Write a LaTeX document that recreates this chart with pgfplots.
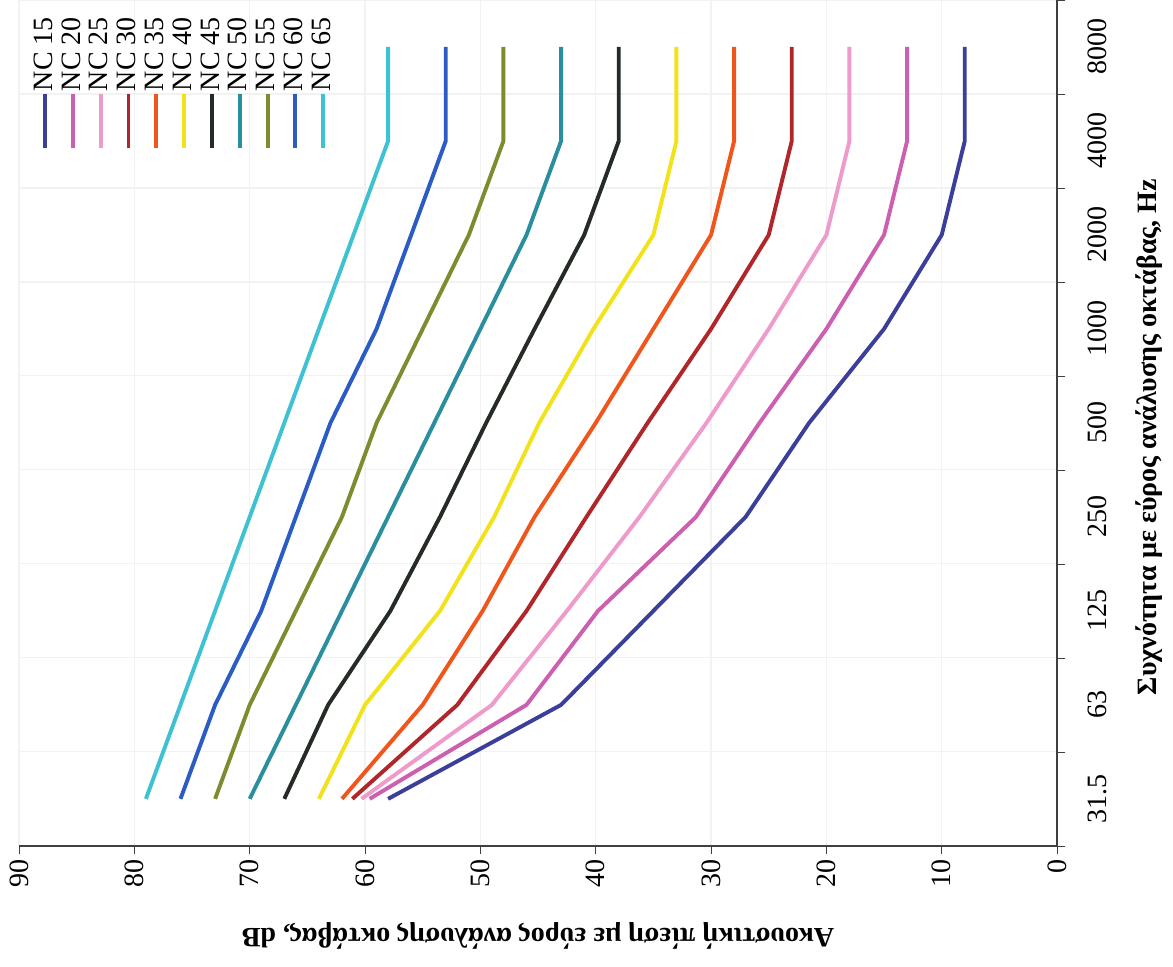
\documentclass[border=0pt]{standalone}
\usepackage{fontspec}
\setmainfont{Liberation Serif}
\usepackage{graphicx}
\usepackage{pgfplots}
\pgfplotsset{compat=1.18}
\usetikzlibrary{calc}

\definecolor{nc15}{HTML}{3B3F99}
\definecolor{nc20}{HTML}{CC5FB0}
\definecolor{nc25}{HTML}{EE9ACB}
\definecolor{nc30}{HTML}{B0262A}
\definecolor{nc35}{HTML}{F0561C}
\definecolor{nc40}{HTML}{F2E21A}
\definecolor{nc45}{HTML}{252B25}
\definecolor{nc50}{HTML}{2A8E9E}
\definecolor{nc55}{HTML}{7E8C30}
\definecolor{nc60}{HTML}{2B5BC4}
\definecolor{nc65}{HTML}{3EC1D3}

\begin{document}
\rotatebox{90}{%
\begin{tikzpicture}
\begin{axis}[
    scale only axis,
    width=302pt, height=370.6pt,
    xmin=0.5, xmax=9.5, ymin=0, ymax=90,
    axis x line*=bottom, axis y line*=left,
    axis line style={black!75, line width=0.6pt},
    tick align=outside,
    major tick length=3pt, minor tick length=3pt,
    xtick={1,...,9},
    xticklabels={31.5,63,125,250,500,1000,2000,4000,8000},
    minor xtick={0.5,1.5,...,9.5},
    major x tick style={draw=none},
    minor x tick style={black!75},
    ytick={0,10,...,90},
    yticklabels={0,10,20,30,40,50,60,70,80,90},
    ytick style={black!75},
    xminorgrids, ymajorgrids,
    minor grid style={black!5},
    major grid style={black!5},
    tick label style={font=\fontsize{10}{12}\selectfont},
    xticklabel style={yshift=-4.5pt},
    yticklabel style={xshift=1.5pt},
    every axis x label/.style={at={(axis description cs:0.483,0)}, anchor=center, yshift=-33pt},
    every axis y label/.style={at={(axis description cs:-0.106,0.5)}, rotate=90, anchor=center},
    label style={font=\fontsize{10}{12}\selectfont\bfseries},
    xlabel={Συχνότητα με εύρος ανάλυσης οκτάβας, Hz},
    ylabel={Ακουστική πίεση με εύρος ανάλυσης οκτάβας, dB},
    legend cell align=left,
    legend style={at={(rel axis cs:1,1)}, anchor=north east, xshift=-4.9pt, yshift=-4pt,
        draw=none, fill=none, inner sep=0pt, row sep=-0.2pt,
        nodes={inner sep=1pt}, font=\fontsize{10}{10}\selectfont},
    legend image code/.code={%
        \path (0pt,0pt) rectangle (17pt,0pt);
        \draw[#1, line width=1.4pt, overlay] (-1.5pt,0pt) -- (17.8pt,0pt);},
    every axis plot/.append style={line width=1.4pt, line join=round},
]
\addplot[nc15] coordinates {(1,58) (2,43) (3,35) (4,27) (5,21.5) (6,15) (7,10) (8,8) (9,8)};
\addplot[nc20] coordinates {(1,59.6) (2,46) (3,39.8) (4,31.3) (5,25.8) (6,20) (7,15) (8,13) (9,13)};
\addplot[nc25] coordinates {(1,60.3) (2,49) (3,42.5) (4,36.2) (5,30.4) (6,25) (7,20) (8,18) (9,18)};
\addplot[nc30] coordinates {(1,61.1) (2,52) (3,46) (4,40.8) (5,35.5) (6,30) (7,25) (8,23) (9,23)};
\addplot[nc35] coordinates {(1,62) (2,55) (3,49.8) (4,45.3) (5,40) (6,35) (7,30) (8,28) (9,28)};
\addplot[nc40] coordinates {(1,64) (2,60) (3,53.5) (4,48.8) (5,44.9) (6,40.2) (7,35) (8,33) (9,33)};
\addplot[nc45] coordinates {(1,67) (2,63.2) (3,57.8) (4,53.5) (5,49.5) (6,45.3) (7,41) (8,38) (9,38)};
\addplot[nc50] coordinates {(1,70) (2,66) (3,62) (4,58) (5,54) (6,50) (7,46) (8,43) (9,43)};
\addplot[nc55] coordinates {(1,73) (2,70) (3,66) (4,62) (5,59) (6,55) (7,51) (8,48) (9,48)};
\addplot[nc60] coordinates {(1,76) (2,73) (3,69) (4,66) (5,63) (6,59) (7,56) (8,53) (9,53)};
\addplot[nc65] coordinates {(1,79) (2,76) (3,73) (4,70) (5,67) (6,64) (7,61) (8,58) (9,58)};
\legend{NC 15, NC 20, NC 25, NC 30, NC 35, NC 40, NC 45, NC 50, NC 55, NC 60, NC 65}
\coordinate (pbl) at (rel axis cs:0,0);
\coordinate (ptr) at (rel axis cs:1,1);
\end{axis}
\pgfresetboundingbox
\useasboundingbox ($(pbl)+(-43.2pt,-41.4pt)$) rectangle ($(ptr)+(0pt,6.8pt)$);
\end{tikzpicture}%
}
\end{document}
